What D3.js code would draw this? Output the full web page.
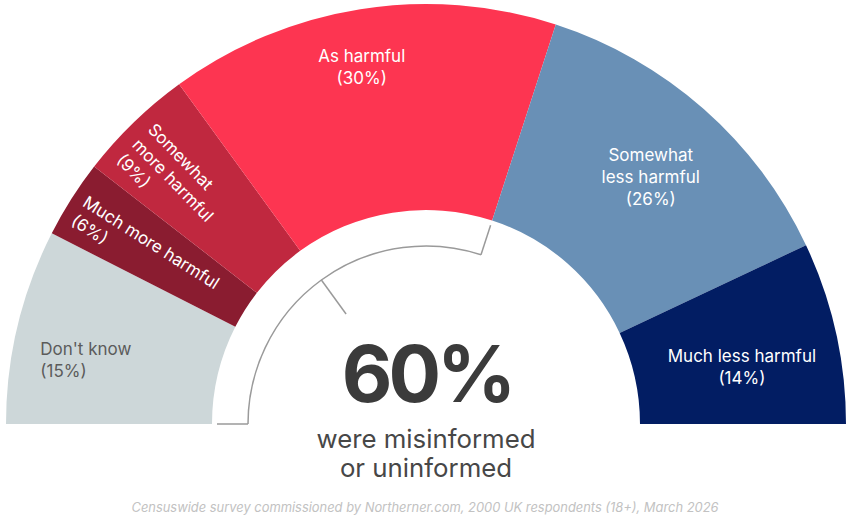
<!DOCTYPE html>
<html>
<head>
<meta charset="utf-8">
<script src="https://cdn.jsdelivr.net/npm/d3@7"></script>
<style>
  body { margin: 0; background: #fff; }
  svg { display: block; font-family: Inter, "Noto Sans", sans-serif; }
</style>
</head>
<body>
<svg id="container" width="848" height="518"></svg>
<script>
// data
var categories = ["Don't know", "Much more harmful", "Somewhat more harmful", "As harmful", "Somewhat less harmful", "Much less harmful"];
var values = [15, 6, 9, 30, 26, 14];
var colors = ["#cdd7d9", "#8a1c30", "#c0283f", "#fd3551", "#6990b6", "#021d63"];
var labelLines = [["Don't know"], ["Much more harmful"], ["Somewhat", "more harmful"], ["As harmful"], ["Somewhat", "less harmful"], ["Much less harmful"]];
var headline = "60%";
var subline = ["were misinformed", "or uninformed"];
var source = "Censuswide survey commissioned by Northerner.com, 2000 UK respondents (18+), March 2026";
var bracketShare = 60; // share covered by the grey bracket

// label placement: mode h = horizontal, r = rotated along the radius
// r = radius, da = angle nudge (deg), p = perpendicular shift for rotated text
var labelLayout = [
  {mode: 'h', r: 391, da: -4.1, anchor: 'start', fill: '#5b5b5b'},
  {mode: 'r', r: 408, p: 0, fill: '#fff'},
  {mode: 'r', r: 405, p: -4, fill: '#fff'},
  {mode: 'h', r: 363, da: -1.2, anchor: 'middle', fill: '#fff'},
  {mode: 'h', r: 334, da: 0.9, anchor: 'middle', fill: '#fff'},
  {mode: 'h', r: 321, da: 2.4, anchor: 'middle', fill: '#fff'}
];

var svg = d3.select('#container');
var cx = 426, cy = 424, outerR = 420, innerR = 214;
var fs = 17, lh = 22;

var g = svg.append('g').attr('transform', `translate(${cx}, ${cy})`);

var pie = d3.pie().sort(null).startAngle(-Math.PI / 2).endAngle(Math.PI / 2);
var arcs = pie(values);
var arc = d3.arc().innerRadius(innerR).outerRadius(outerR);

// slices
g.append('g').selectAll('path')
    .data(arcs)
  .enter().append('path')
    .attr('d', arc)
    .attr('fill', (d, i) => colors[i]);

// labels
var deg = 180 / Math.PI;
var labels = g.append('g').attr('font-size', fs);
arcs.forEach(function(d, i){
  var L = labelLayout[i];
  var lines = labelLines[i].concat([`(${values[i]}%)`]);
  var mid = (d.startAngle + d.endAngle) / 2;
  var t;
  if(L.mode === 'h'){
    var a = mid + L.da / deg;
    var x = L.r * Math.sin(a), y = -L.r * Math.cos(a);
    t = labels.append('text')
        .attr('text-anchor', L.anchor)
        .attr('fill', L.fill);
    lines.forEach(function(s, k){
      t.append('tspan')
          .attr('x', x)
          .attr('y', y + (k - (lines.length - 1) / 2) * lh + fs * 0.36)
          .text(s);
    });
  } else {
    // rotate so text reads inward along the slice's middle radius
    var rot = mid * deg + 90;
    t = labels.append('text')
        .attr('transform', `rotate(${rot})`)
        .attr('text-anchor', 'start')
        .attr('fill', L.fill);
    lines.forEach(function(s, k){
      t.append('tspan')
          .attr('x', -L.r)
          .attr('y', L.p + k * lh)
          .text(s);
    });
  }
});

// bracket round the misinformed share
var endA = -Math.PI / 2 + Math.PI * bracketShare / 100;
var midA = (-Math.PI / 2 + endA) / 2;
var bracketR = 178;
var bracket = g.append('g')
    .attr('fill', 'none')
    .attr('stroke', '#9a9a9a')
    .attr('stroke-width', 1.5);
bracket.append('path')
    .attr('d', d3.arc()({innerRadius: bracketR, outerRadius: bracketR, startAngle: -Math.PI / 2, endAngle: endA}));
function tick(a, r0, r1){
  bracket.append('line')
      .attr('x1', r0 * Math.sin(a)).attr('y1', -r0 * Math.cos(a))
      .attr('x2', r1 * Math.sin(a)).attr('y2', -r1 * Math.cos(a));
}
tick(-Math.PI / 2, bracketR, 209);
tick(endA, bracketR, 209);
tick(midA, bracketR, 136);

// centre text
svg.append('text')
    .attr('x', 427).attr('y', 402)
    .attr('text-anchor', 'middle')
    .attr('font-size', 78)
    .attr('font-weight', 700)
    .attr('letter-spacing', -4)
    .attr('fill', '#3b3b3b')
    .text(headline);

svg.append('text')
    .attr('text-anchor', 'middle')
    .attr('font-size', 25.8)
    .attr('fill', '#474747')
  .selectAll('tspan')
    .data(subline)
  .enter().append('tspan')
    .attr('x', 426)
    .attr('y', (d, i) => 448 + i * 29)
    .text(d => d);

// source note
svg.append('text')
    .attr('x', 425).attr('y', 512)
    .attr('text-anchor', 'middle')
    .attr('font-size', 12.9)
    .attr('font-style', 'italic')
    .attr('fill', '#c2c2c2')
    .text(source);
</script>
</body>
</html>
